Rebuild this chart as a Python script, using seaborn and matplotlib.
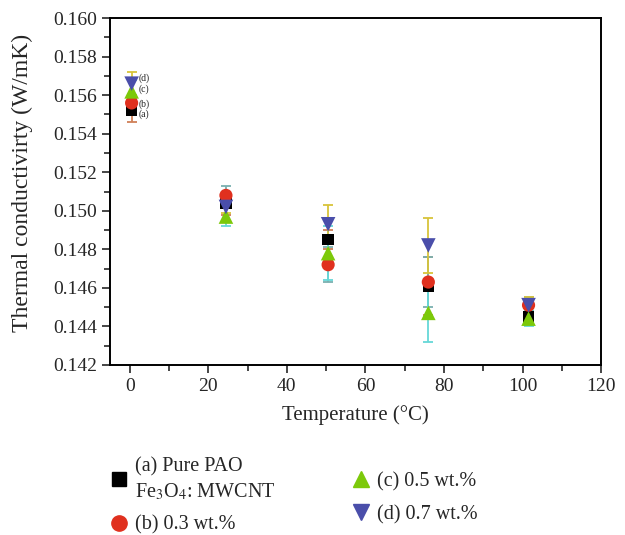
import matplotlib
matplotlib.use("Agg")
import matplotlib.pyplot as plt
from matplotlib.ticker import MultipleLocator, FormatStrFormatter
import pandas as pd
import seaborn as sns

temperature = [0.5, 24.5, 50.5, 76, 101.5]

labels = ["(a) Pure PAO\nFe$_3$O$_4$: MWCNT", "(b) 0.3 wt.%", "(c) 0.5 wt.%", "(d) 0.7 wt.%"]
short_labels = ["(a)", "(b)", "(c)", "(d)"]

k_a = [0.1552, 0.1504, 0.1485, 0.1461, 0.1445]
k_b = [0.1556, 0.1508, 0.1472, 0.1463, 0.1451]
k_c = [0.1562, 0.1497, 0.1478, 0.1447, 0.1444]
k_d = [0.1566, 0.1502, 0.1493, 0.1482, 0.1451]

err_a = [0.0006, 0.0006, 0.0005, 0.0015, 0.0003]
err_b = [0.0004, 0.0005, 0.0009, 0.0013, 0.0004]
err_c = [0.0006, 0.0005, 0.0014, 0.0015, 0.0004]
err_d = [0.0006, 0.0003, 0.0010, 0.00145, 0.0004]

marker_colors = ["#000000", "#e0301e", "#7cc90a", "#4a4eaa"]
error_colors = ["#d08058", "#7ab0b0", "#66d8d8", "#d8c43a"]
markers = ["s", "o", "^", "v"]
marker_sizes = [70, 90, 110, 110]


def main():
    sns.set_theme(style="ticks")
    plt.rcParams["font.family"] = ["Liberation Serif", "DejaVu Serif"]
    plt.rcParams["mathtext.fontset"] = "stix"

    series = [k_a, k_b, k_c, k_d]
    errors = [err_a, err_b, err_c, err_d]

    rows = []
    for lab, vals in zip(labels, series):
        for t, v in zip(temperature, vals):
            rows.append({"Temperature": t, "k": v, "Sample": lab})
    df = pd.DataFrame(rows)

    fig = plt.figure(figsize=(6.25, 5.35), dpi=100)
    ax = fig.add_axes([0.176, 0.318, 0.786, 0.648])

    for vals, errs, ec in zip(series, errors, error_colors):
        ax.errorbar(temperature, vals, yerr=errs, fmt="none", ecolor=ec,
                    elinewidth=1.3, capsize=3.4, capthick=1.3, zorder=2)

    sns.scatterplot(
        data=df, x="Temperature", y="k", hue="Sample", style="Sample",
        size="Sample", sizes=dict(zip(labels, marker_sizes)),
        palette=dict(zip(labels, marker_colors)),
        markers=dict(zip(labels, markers)),
        edgecolor="none", linewidth=0, legend=False, ax=ax, zorder=3,
    )

    # small tags next to the first group, spread so they don't collide
    tag_offsets = [-2.6, -0.6, 1.4, 3.8]
    for lab, vals, dy in zip(short_labels, series, tag_offsets):
        ax.annotate(lab, (temperature[0], vals[0]), xytext=(5, dy),
                    textcoords="offset points", fontsize=7, va="center")

    ax.set_xlim(-5, 120)
    ax.set_ylim(0.142, 0.160)
    ax.xaxis.set_major_locator(MultipleLocator(20))
    ax.xaxis.set_minor_locator(MultipleLocator(10))
    ax.yaxis.set_major_locator(MultipleLocator(0.002))
    ax.yaxis.set_minor_locator(MultipleLocator(0.001))
    ax.yaxis.set_major_formatter(FormatStrFormatter("%.3f"))
    ax.tick_params(which="major", length=6, width=1.2, labelsize=14, direction="out")
    ax.tick_params(which="minor", length=4, width=1.2, direction="out")
    for sp in ax.spines.values():
        sp.set_linewidth(1.4)
        sp.set_color("black")

    ax.set_xlabel("Temperature (°C)", fontsize=15, labelpad=7)
    ax.set_ylabel("Thermal conductivirty (W/mK)", fontsize=17)
    ax.yaxis.set_label_coords(-0.156, 0.524)

    handles = [
        plt.Line2D([], [], ls="none", marker=m, color=c, markersize=s)
        for m, c, s in zip(markers, marker_colors, [10, 11, 12, 12])
    ]
    leg1 = fig.legend(handles[:2], labels[:2], loc="upper left",
                      bbox_to_anchor=(0.162, 0.165), frameon=False,
                      fontsize=14.5, handlelength=0.8, handletextpad=0.4,
                      labelspacing=0.65, borderpad=0)
    for t in leg1.get_texts():
        t.set_linespacing(1.35)
    fig.legend(handles[2:], labels[2:], loc="upper left",
               bbox_to_anchor=(0.548, 0.137), frameon=False,
               fontsize=14.5, handlelength=0.8, handletextpad=0.4,
               labelspacing=0.7, borderpad=0)

    fig.savefig("out.png", dpi=100)


if __name__ == "__main__":
    main()
